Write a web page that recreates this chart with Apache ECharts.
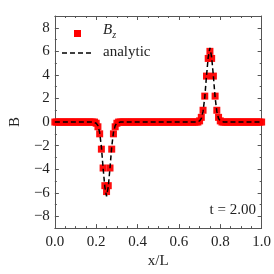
<!DOCTYPE html>
<html><head><meta charset="utf-8">
<script src="https://cdn.jsdelivr.net/npm/echarts@6/dist/echarts.min.js"></script>
<style>html,body{margin:0;padding:0;background:#fff}#c{width:274px;height:274px}</style>
</head><body><div id="c"></div>
<script>
// sample positions (x/L)
var xGrid = [
0.0000,0.0083,0.0167,0.0250,0.0333,0.0417,0.0500,0.0583,0.0667,0.0750,
0.0833,0.0917,0.1000,0.1083,0.1167,0.1250,0.1333,0.1417,0.1500,0.1583,
0.1667,0.1750,0.1833,0.1917,0.2000,0.2083,0.2167,0.2250,0.2333,0.2417,
0.2500,0.2583,0.2667,0.2750,0.2833,0.2917,0.3000,0.3083,0.3167,0.3250,
0.3333,0.3417,0.3500,0.3583,0.3667,0.3750,0.3833,0.3917,0.4000,0.4083,
0.4167,0.4250,0.4333,0.4417,0.4500,0.4583,0.4667,0.4750,0.4833,0.4917,
0.5000,0.5083,0.5167,0.5250,0.5333,0.5417,0.5500,0.5583,0.5667,0.5750,
0.5833,0.5917,0.6000,0.6083,0.6167,0.6250,0.6333,0.6417,0.6500,0.6583,
0.6667,0.6750,0.6833,0.6917,0.7000,0.7083,0.7167,0.7250,0.7333,0.7417,
0.7500,0.7583,0.7667,0.7750,0.7833,0.7917,0.8000,0.8083,0.8167,0.8250,
0.8333,0.8417,0.8500,0.8583,0.8667,0.8750,0.8833,0.8917,0.9000,0.9083,
0.9167,0.9250,0.9333,0.9417,0.9500,0.9583,0.9667,0.9750,0.9833,0.9917,
1.0000];
// numerical B_z
var bzValues = [
0,0,0,0,0,0,0,0,0,0,
0,0,0,0,0,0,0,0,0,0,
0,0,0,0,-0.1,-0.4,-1.0,-2.3,-3.9,-5.4,
-5.9,-5.4,-3.9,-2.3,-1.0,-0.4,-0.1,0,0,0,
0,0,0,0,0,0,0,0,0,0,
0,0,0,0,0,0,0,0,0,0,
0,0,0,0,0,0,0,0,0,0,
0,0,0,0,0,0,0,0,0,0,
0,0,0,0,0.1,0.4,1.0,2.2,3.9,5.4,
6.0,5.4,3.9,2.2,1.0,0.4,0.1,0,0,0,
0,0,0,0,0,0,0,0,0,0,
0,0,0,0,0,0,0,0,0,0,
0];
// analytic curve
var analyticValues = [
0,0,0,0,0,0,0,0,0,0,
0,0,0,0,0,0,0,0,0,0,
0,0,0,0,-0.1,-0.3,-0.9,-2.1,-3.9,-5.5,
-6.3,-5.5,-3.9,-2.1,-0.9,-0.3,-0.1,0,0,0,
0,0,0,0,0,0,0,0,0,0,
0,0,0,0,0,0,0,0,0,0,
0,0,0,0,0,0,0,0,0,0,
0,0,0,0,0,0,0,0,0,0,
0,0,0,0,0.1,0.3,0.9,2.1,3.9,5.5,
6.3,5.5,3.9,2.1,0.9,0.3,0.1,0,0,0,
0,0,0,0,0,0,0,0,0,0,
0,0,0,0,0,0,0,0,0,0,
0];
var yMajorTicks = [-8,-6,-4,-2,0,2,4,6,8];
var yMinorTicks = [-9,-7,-5,-3,-1,1,3,5,7,9];
var timeLabel = 't = 2.00';

var font = "'Liberation Serif', 'DejaVu Serif', serif";
var axisColor = '#555';
function pairs(v){ return xGrid.map(function(x,i){return [x,v[i]];}); }

function xAx(pos, showLabel, showName){
  return {type:'value', position:pos, min:0, max:1, interval:0.2,
    name: showName ? 'x/L' : '', nameLocation:'middle', nameGap:23,
    nameTextStyle:{fontFamily:font,fontSize:15,color:'#222'},
    axisLine:{show:true,onZero:false,lineStyle:{color:axisColor,width:1}},
    axisTick:{show:true,inside:true,length:4,lineStyle:{color:axisColor}},
    minorTick:{show:true,splitNumber:4,length:2,lineStyle:{color:axisColor}},
    axisLabel:{show:showLabel,fontFamily:font,fontSize:15,color:'#222',margin:6,
      formatter:function(v){return v.toFixed(1);}},
    splitLine:{show:false}};
}
function yAx(pos, showLabel, ticks, len, showLine, showName){
  return {type:'value', position:pos, min:-9, max:9, interval:1,
    name: showName ? 'B' : '', nameLocation:'middle', nameGap:25, nameRotate:90,
    nameTextStyle:{fontFamily:font,fontSize:15,color:'#222'},
    axisLine:{show:showLine,onZero:false,lineStyle:{color:axisColor,width:1}},
    axisTick:{show:true,inside:true,length:len,customValues:ticks,lineStyle:{color:axisColor}},
    axisLabel:{show:showLabel,customValues:ticks,fontFamily:font,fontSize:15,color:'#222',margin:5,
      formatter:function(v){return String(v).replace('-','\u2212');}},
    splitLine:{show:false}};
}

var chart = echarts.init(document.getElementById('c'), null, {renderer:'canvas'});
chart.setOption({
  animation:false,
  backgroundColor:'#fff',
  grid:{left:49, top:16, right:8, bottom:42},
  xAxis:[xAx('bottom',true,true), xAx('top',false,false)],
  yAxis:[yAx('left',true,yMajorTicks,4,true,true), yAx('left',false,yMinorTicks,2,false,false),
         yAx('right',false,yMajorTicks,4,true,false), yAx('right',false,yMinorTicks,2,false,false)],
  series:[
    {name:'Bz', type:'scatter', xAxisIndex:0, yAxisIndex:0, data:pairs(bzValues),
     symbol:'rect', symbolSize:7, itemStyle:{color:'#ff0000', opacity:0.95}, z:2},
    {name:'analytic', type:'line', xAxisIndex:0, yAxisIndex:0, data:pairs(analyticValues),
     showSymbol:false, symbol:'none', lineStyle:{color:'#000',width:1.5,type:[5,3]}, z:3}
  ],
  graphic:[
    {type:'rect', shape:{x:74,y:30,width:7,height:7}, style:{fill:'#ff0000'}},
    {type:'text', left:103, top:23, style:{text:'{b|B}{s|z}', rich:{
      b:{fontFamily:font,fontStyle:'italic',fontSize:15,fill:'#222'},
      s:{fontFamily:font,fontStyle:'italic',fontSize:10,fill:'#222',padding:[9,0,0,0]}}}},
    {type:'line', shape:{x1:62,y1:53,x2:91,y2:53}, style:{stroke:'#000',lineWidth:1.5,lineDash:[5,3]}},
    {type:'text', left:103, top:45, style:{text:'analytic',fontFamily:font,fontSize:15,fill:'#222'}},
    {type:'text', right:18, top:203, style:{text:timeLabel,fontFamily:font,fontSize:15,fill:'#222'}}
  ]
});
</script></body></html>
